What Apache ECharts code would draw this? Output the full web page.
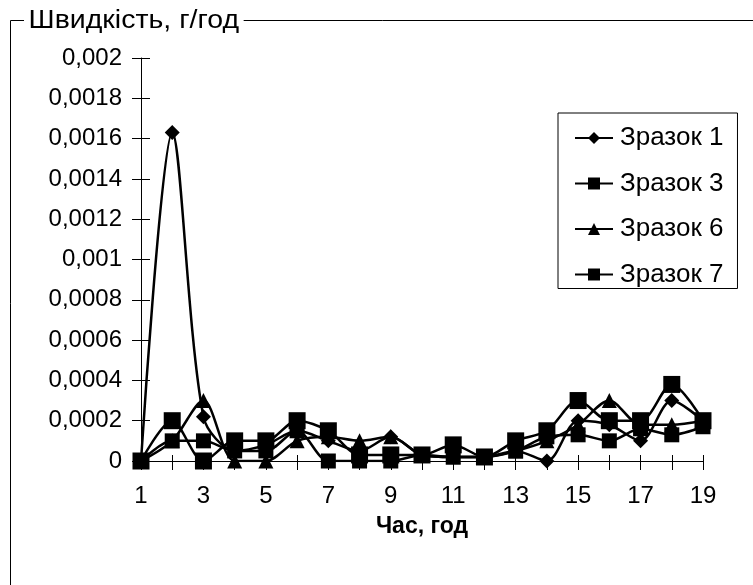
<!DOCTYPE html>
<html><head><meta charset="utf-8">
<script src="https://cdn.jsdelivr.net/npm/echarts@6/dist/echarts.min.js"></script>
<style>html,body{margin:0;padding:0;background:#fff}#c{width:753px;height:585px}</style>
</head><body><div id="c"></div>
<script>
const hours = ['1','2','3','4','5','6','7','8','9','10','11','12','13','14','15','16','17','18','19'];
const s1 = [0, 0.00163, 0.00022, 0.00005, 0.00008, 0.00015, 0.0001, 0.00005, 0.00012, 0.00003, 0.00002, 0.00002, 0.00005, 0, 0.0002, 0.00018, 0.0001, 0.0003, 0.0002];
const s3 = [0, 0.0002, 0, 0.0001, 0.0001, 0.0002, 0.00015, 0.00003, 0.00003, 0.00003, 0.00008, 0.00002, 0.0001, 0.00015, 0.0003, 0.0002, 0.0002, 0.00038, 0.0002];
const s6 = [0, 0.0001, 0.0003, 0, 0, 0.0001, 0.00012, 0.0001, 0.00012, 0.00003, 0.00002, 0.00002, 0.00005, 0.0001, 0.00018, 0.0003, 0.00018, 0.00018, 0.0002];
const s7 = [0, 0.0001, 0.0001, 0.00005, 0.00005, 0.00015, 0, 0, 0, 0.00003, 0.00002, 0.00002, 0.00005, 0.00012, 0.00013, 0.0001, 0.00016, 0.00013, 0.00017];
const names = ['Зразок 1','Зразок 3','Зразок 6','Зразок 7'];
const yTicks = ['0','0,0002','0,0004','0,0006','0,0008','0,001','0,0012','0,0014','0,0016','0,0018','0,002'];

const font = 'Liberation Sans, Arial, sans-serif';
const chart = echarts.init(document.getElementById('c'));
function ser(name, data, symbol, size) {
  return {name, type:'line', data, symbol, symbolSize:size, smooth:0.3,
    xAxisIndex:0, yAxisIndex:0,
    lineStyle:{color:'#000', width:2.5}, itemStyle:{color:'#000'}, animation:false};
}
chart.setOption({
  animation:false,
  graphic:[
    {type:'rect', shape:{x:10.5,y:20.5,width:760,height:600}, style:{fill:'none', stroke:'#000', lineWidth:1}, z:0},
    {type:'text', x:24, y:21, scaleX:1.14, style:{text:'Швидкість, г/год', font:'25px '+font, fill:'#000', backgroundColor:'#fff', padding:[0,4,0,4], verticalAlign:'middle'}, z:10}
  ],
  grid:{left:141, right:50, top:58, bottom:124},
  legend:{
    orient:'vertical', left:558, top:113,
    padding:[12,14,1,16], itemGap:19.5, itemWidth:38, itemHeight:15,
    borderColor:'#000', borderWidth:1, backgroundColor:'#fff',
    textStyle:{fontSize:26, fontFamily:font, color:'#000', padding:[0,0,0,2]},
    data:names
  },
  xAxis:[{
    type:'category', data:hours, boundaryGap:false,
    name:'Час, год', nameLocation:'middle', nameGap:54,
    nameTextStyle:{fontSize:23, fontWeight:'bold', fontFamily:font, color:'#000'},
    axisLine:{lineStyle:{color:'#000', width:1}},
    axisTick:{alignWithLabel:true, interval:0, length:9, lineStyle:{color:'#000'}},
    axisLabel:{interval:1, fontSize:24, fontFamily:font, color:'#000', margin:23},
    splitLine:{show:false}
  },{
    type:'category', data:hours, boundaryGap:false, position:'bottom',
    axisLine:{show:false},
    axisTick:{inside:true, interval:0, length:6, lineStyle:{color:'#000'}},
    axisLabel:{show:false}, splitLine:{show:false}
  }],
  yAxis:[{
    type:'value', min:0, max:0.002, interval:0.0002,
    axisLine:{show:true, lineStyle:{color:'#000', width:1}},
    axisTick:{show:true, length:9, lineStyle:{color:'#000'}},
    axisLabel:{fontSize:24, fontFamily:font, color:'#000', margin:19,
      formatter:function(v){ return yTicks[Math.round(v/0.0002)]; }},
    splitLine:{show:false}
  },{
    type:'value', min:0, max:0.002, interval:0.0002, position:'left',
    axisLine:{show:false},
    axisTick:{show:true, inside:true, length:9, lineStyle:{color:'#000'}},
    axisLabel:{show:false}, splitLine:{show:false}
  }],
  series:[
    ser(names[0], s1, 'diamond', 15),
    ser(names[1], s3, 'rect', 17),
    ser(names[2], s6, 'triangle', 15),
    ser(names[3], s7, 'rect', 15)
  ]
});
</script></body></html>
